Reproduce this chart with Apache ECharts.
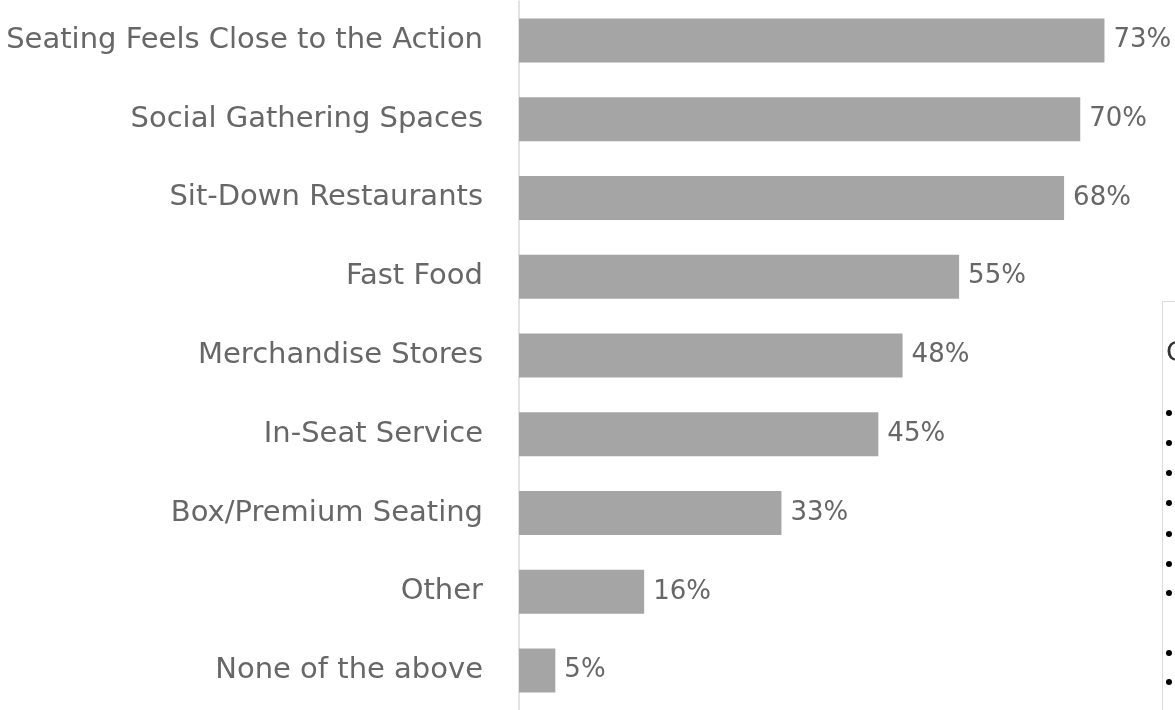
<!DOCTYPE html>
<html>
<head>
<meta charset="utf-8">
<script src="https://cdn.jsdelivr.net/npm/echarts@6/dist/echarts.min.js"></script>
<style>
  html, body { margin: 0; padding: 0; background: #fff; }
  #chart { width: 1175px; height: 710px; }
</style>
</head>
<body>
<div id="chart"></div>
<script>
// 横向条形图
var categories = ['Seating Feels Close to the Action', 'Social Gathering Spaces', 'Sit-Down Restaurants',
    'Fast Food', 'Merchandise Stores', 'In-Seat Service', 'Box/Premium Seating', 'Other', 'None of the above'];
var values = [73, 70, 68, 55, 48, 45, 33, 16, 5];

// 右侧被裁掉的文本框
var boxTitle = 'C';
var bulletRows = [413, 443, 473, 503, 534, 564, 593, 653, 682];

var chart = echarts.init(document.getElementById('chart'));

var boxGraphics = [{
    type: 'rect',
    left: 1162, top: 301,
    shape: { width: 60, height: 430 },
    style: { fill: '#fff', stroke: '#dcdcdc', lineWidth: 1 }
}, {
    type: 'text',
    left: 1166, top: 340,
    style: { text: boxTitle, fill: '#333', font: '27px "DejaVu Sans"' }
}];
bulletRows.forEach(function (y) {
    boxGraphics.push({
        type: 'circle',
        shape: { cx: 1169, cy: y, r: 3 },
        style: { fill: '#000' }
    });
});

var option = {
    animation: false,
    grid: {
        top: 1,
        bottom: 0,
        left: 519,
        right: 14
    },
    xAxis: {
        type: 'value',
        min: 0.5,
        max: 80,
        show: false
    },
    yAxis: {
        type: 'category',
        inverse: true,
        data: categories,
        axisLine: { show: true, lineStyle: { color: '#d9d9d9', width: 1.5 } },
        axisTick: { show: false },
        axisLabel: {
            margin: 36,
            color: '#676767',
            fontFamily: 'DejaVu Sans',
            fontSize: 29
        }
    },
    series: [{
        type: 'bar',
        data: values,
        barWidth: 44,
        itemStyle: { color: '#a5a5a5' },
        label: {
            show: true,
            position: 'right',
            distance: 9,
            color: '#676767',
            fontFamily: 'DejaVu Sans',
            fontSize: 26,
            formatter: '{c}%'
        }
    }],
    graphic: boxGraphics
};
chart.setOption(option);
</script>
</body>
</html>
